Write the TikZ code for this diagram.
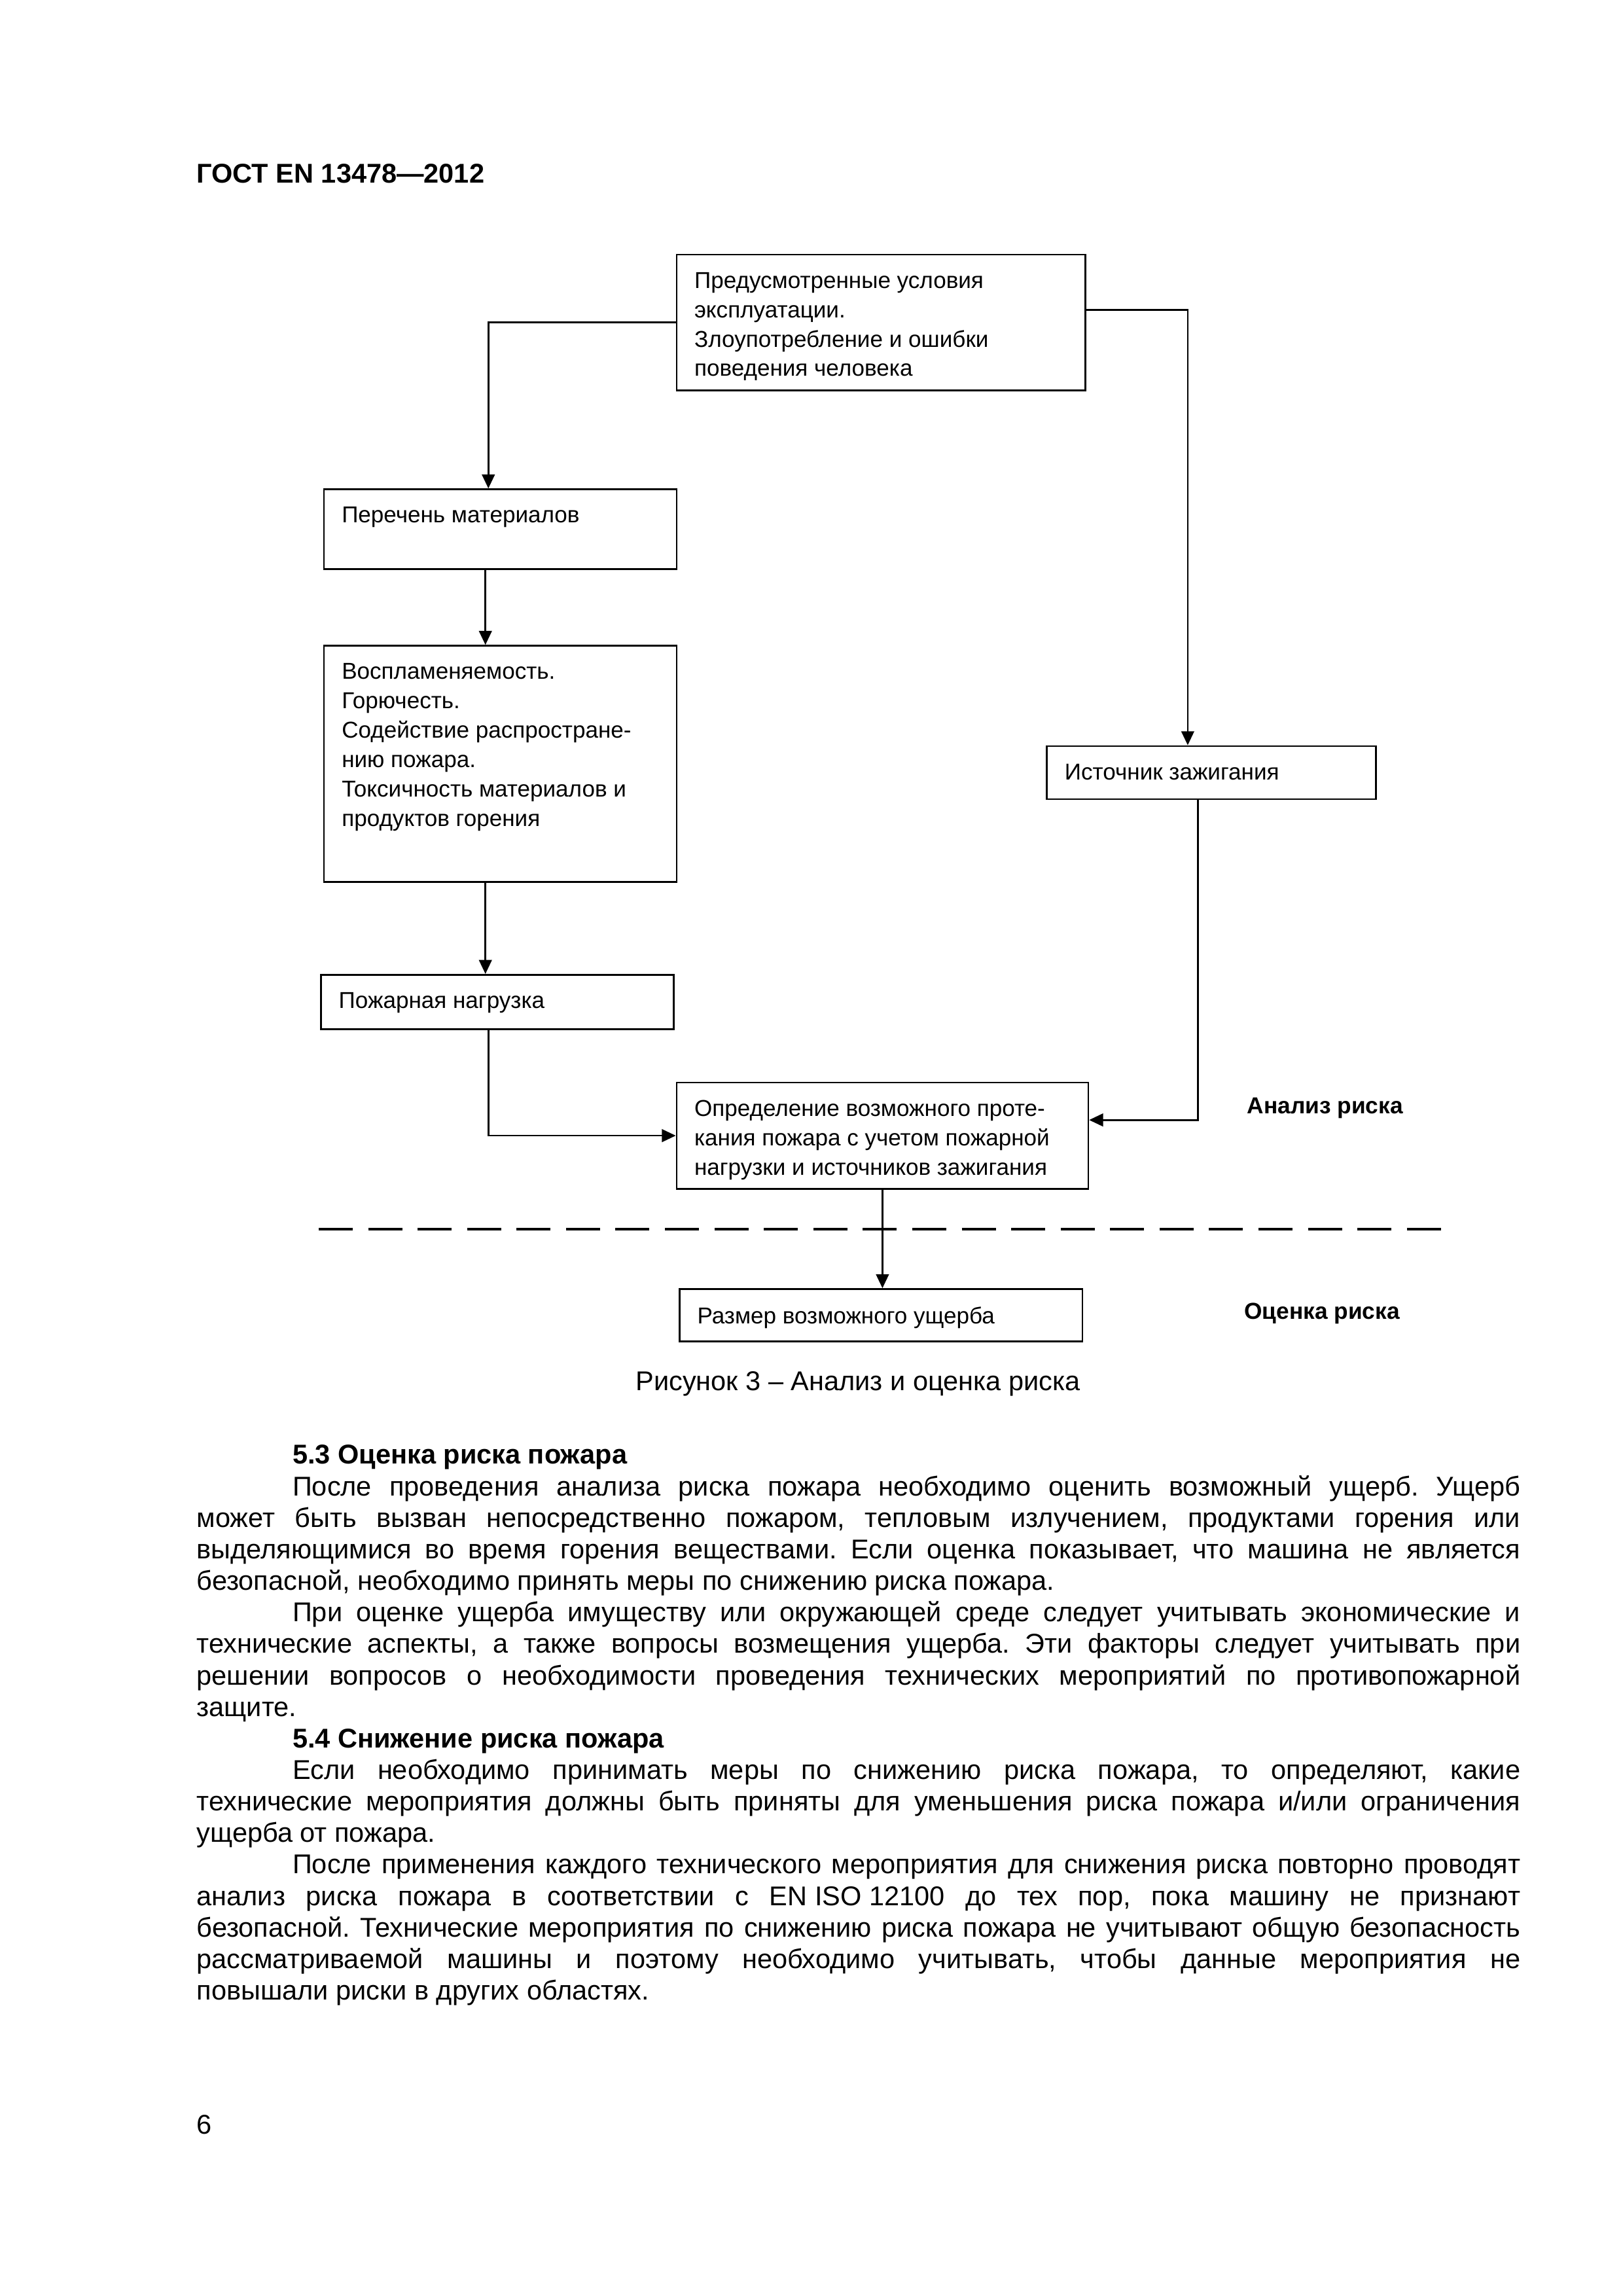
\documentclass[tikz,border=0pt]{standalone}
\usepackage{fontspec}
\setmainfont{Liberation Sans}
\usetikzlibrary{arrows.meta,calc}
\newcommand{\bxt}[3]{\parbox[t][#2][t]{#1}{\raggedright #3}}
\begin{document}
\begin{tikzpicture}[x=0.190909mm,y=-0.190909mm,
  box/.style={draw,line width=0.65pt,inner xsep=2.3mm,inner ysep=2.3mm,anchor=north west,
    font=\fontsize{8.45}{10.8}\selectfont},
  arr/.style={line width=0.65pt,-{Triangle[length=1.8mm,width=1.65mm]}},
  lbl/.style={font=\fontsize{8.5}{10.8}\selectfont\bfseries,inner sep=0pt},
  body/.style={font=\fontsize{10}{11.6}\selectfont,inner sep=0pt}]
\useasboundingbox[fill=white] (0,0) rectangle (1100,1556);

% header
\node[body,anchor=base west,font=\fontsize{10}{11.6}\selectfont\bfseries] (hdr) at (133,124) {ГОСТ EN 13478—2012};

% boxes
\node[box] (b1) at (458,172) {\bxt{48.28mm}{12.96mm}{Предусмотренные условия\\эксплуатации.\\Злоупотребление и ошибки\\поведения человека}};
\node[box] (b2) at (219,331) {\bxt{41.03mm}{5.71mm}{Перечень материалов}};
\node[box] (b3) at (219,437) {\bxt{41.03mm}{25.95mm}{Воспламеняемость.\\Горючесть.\\Содействие распростране-\\нию пожара.\\Токсичность материалов и\\продуктов горения}};
\node[box] (b4) at (217,660) {\bxt{41.03mm}{2.46mm}{Пожарная нагрузка}};
\node[box] (ist) at (709,505) {\bxt{37.97mm}{2.27mm}{Источник зажигания}};
\node[box] (b5) at (458,733) {\bxt{48.66mm}{9.15mm}{Определение возможного проте-\\кания пожара с учетом пожарной\\нагрузки и источников зажигания}};
\node[box] (b6) at (460,873) {\bxt{47.52mm}{1.51mm}{Размер возможного ущерба}};

% side labels
\node[lbl,anchor=west] (an) at (845,751) {Анализ риска};
\node[lbl,anchor=west] (oc) at (843,890) {Оценка риска};

% connectors
\coordinate (c1) at ($(b2.north west)+(112,0)$);
\draw[arr] (b1.west) -| (c1);
\coordinate (c2s) at ($(b1.north east)+(0,38)$);
\coordinate (c2e) at ($(ist.north west)+(96,0)$);
\draw[arr] (c2s) -| (c2e);
\coordinate (c3) at ($(b2.south west)+(110,0)$);
\draw[arr] (c3) -- (c3 |- b3.north);
\coordinate (c4) at ($(b3.south west)+(110,0)$);
\draw[arr] (c4) -- (c4 |- b4.north);
\coordinate (c5) at ($(b4.south west)+(114,0)$);
\draw[arr] (c5) |- (b5.west);
\coordinate (c6) at ($(ist.south west)+(103,0)$);
\coordinate (c6e) at ($(b5.north east)+(0,26)$);
\draw[arr] (c6) |- (c6e);
\draw[arr] (b5.south) -- (b5.south |- b6.north);

% dashed separator
\coordinate (d1) at (216,833);
\coordinate (d2) at (977.6,833);
\draw[line width=0.8pt,dash pattern=on 4.4mm off 2.0mm] (d1) -- (d2);

% caption
\node[body] (cap) at (581.5,938) {Рисунок 3 – Анализ и оценка риска};

% body text
\node[body,anchor=north west,text width=171.25mm,align=justify] (txt) at (133,979) {%
\setlength{\parindent}{12.4mm}\setlength{\parskip}{0pt}\frenchspacing
\hyphenpenalty=10000 \tolerance=10000 \emergencystretch=0pt
\indent{\bfseries 5.3 Оценка риска пожара}\par
\indent После проведения анализа риска пожара необходимо оценить возможный ущерб. Ущерб\linebreak
может быть вызван непосредственно пожаром, тепловым излучением, продуктами горения или\linebreak
выделяющимися во время горения веществами. Если оценка показывает, что машина не является\linebreak
безопасной, необходимо принять меры по снижению риска пожара.\par
\indent При оценке ущерба имуществу или окружающей среде следует учитывать экономические и\linebreak
технические аспекты, а также вопросы возмещения ущерба. Эти факторы следует учитывать при\linebreak
решении вопросов о необходимости проведения технических мероприятий по противопожарной\linebreak
защите.\par
\indent{\bfseries 5.4 Снижение риска пожара}\par
\indent Если необходимо принимать меры по снижению риска пожара, то определяют, какие\linebreak
технические мероприятия должны быть приняты для уменьшения риска пожара и/или ограничения\linebreak
ущерба от пожара.\par
\indent После применения каждого технического мероприятия для снижения риска повторно проводят\linebreak
анализ риска пожара в соответствии с \hbox{EN ISO 12100} до тех пор, пока машину не признают\linebreak
безопасной. Технические мероприятия по снижению риска пожара не учитывают общую безопасность\linebreak
рассматриваемой машины и поэтому необходимо учитывать, чтобы данные мероприятия не\linebreak
повышали риски в других областях.\par
};

% page number
\node[body,anchor=base west] (pg) at (133,1446) {6};
\end{tikzpicture}
\end{document}
